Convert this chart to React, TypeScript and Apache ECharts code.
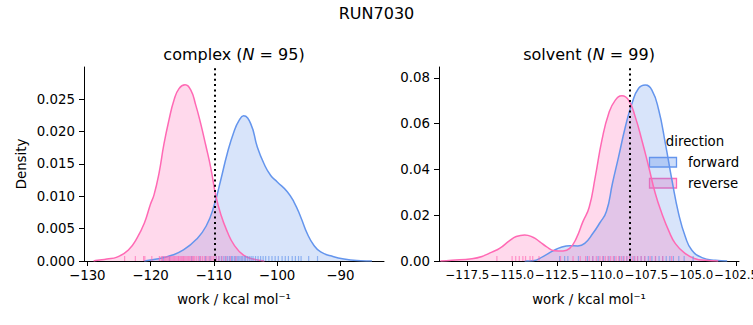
import React, { useEffect, useRef } from 'react';
import * as echarts from 'echarts';

// ---------- data ----------
const complexForwardX = [-121.0, -119.0, -116.9, -114.8, -112.7, -111.2, -110.0, -108.9, -107.87, -106.8, -106.0, -105.3, -104.17, -103.12, -102.06, -101.0, -99.96, -98.38, -97.32, -96.26, -95.21, -94.16, -93.1, -91.52, -89.42, -86.78, -85.0];
const complexForwardY = [0, 0.0003, 0.0008, 0.0017, 0.0034, 0.0054, 0.0084, 0.0125, 0.0166, 0.02, 0.0217, 0.0224, 0.0212, 0.0176, 0.015, 0.0132, 0.0122, 0.0107, 0.0091, 0.0068, 0.0042, 0.0024, 0.0014, 0.0008, 0.0003, 0.00005, 0];

const complexReverseX = [-129.0, -128.4, -126.9, -125.3, -123.5, -122.1, -121.0, -120.0, -119.45, -118.67, -117.87, -117.1, -116.3, -115.5, -114.55, -113.65, -112.86, -112.07, -111.28, -110.5, -109.7, -108.9, -107.9, -106.8, -105.3, -103.8, -102.0];
const complexReverseY = [0, 0.0001, 0.0003, 0.0006, 0.0017, 0.0036, 0.0058, 0.0088, 0.0102, 0.0135, 0.0181, 0.0217, 0.0248, 0.0266, 0.0272, 0.0264, 0.0241, 0.0212, 0.0179, 0.0145, 0.0102, 0.0072, 0.0046, 0.0025, 0.0009, 0.0003, 0];

const solventForwardX = [-114.3, -113.84, -113.28, -112.72, -112.26, -111.79, -111.33, -110.95, -110.49, -110.12, -109.74, -109.4, -109.06, -108.68, -108.31, -107.94, -107.57, -107.2, -106.82, -106.45, -106.08, -105.71, -105.33, -104.97, -104.41, -103.66, -103.0];
const solventForwardY = [0, 0.0001, 0.0019, 0.0044, 0.006, 0.0067, 0.0066, 0.0077, 0.0121, 0.0165, 0.0216, 0.034, 0.0455, 0.0587, 0.0689, 0.0755, 0.0769, 0.0747, 0.066, 0.0514, 0.0353, 0.0207, 0.0105, 0.0047, 0.0015, 0.0003, 0];

const solventReverseX = [-119.0, -118.36, -117.24, -116.68, -116.13, -115.7, -115.14, -114.77, -114.3, -113.84, -113.47, -113.09, -112.63, -112.16, -111.79, -111.42, -111.05, -110.7, -110.36, -109.99, -109.61, -109.24, -108.87, -108.5, -108.13, -107.76, -107.38, -107.01, -106.64, -106.27, -105.89, -105.33, -104.78, -104.22, -103.5];
const solventReverseY = [0, 0.0003, 0.001, 0.002, 0.0039, 0.0055, 0.0089, 0.0107, 0.0114, 0.0104, 0.0085, 0.0063, 0.0045, 0.0044, 0.0055, 0.0099, 0.0172, 0.0235, 0.0368, 0.0528, 0.0645, 0.0703, 0.0722, 0.0703, 0.063, 0.0528, 0.0412, 0.0295, 0.0207, 0.0134, 0.0076, 0.0032, 0.001, 0.0003, 0];

const complexForwardRug = [-118.0, -117.0, -113.5, -112.2, -111.3, -110.6, -109.6, -109.2, -108.8, -108.4, -108.1, -107.8, -107.5, -107.2, -107.0, -106.7, -106.5, -106.2, -106.0, -105.7, -105.5, -105.2, -105.0, -104.7, -104.4, -104.1, -103.8, -103.4, -103.0, -102.6, -102.2, -101.8, -101.3, -100.8, -100.3, -99.8, -99.2, -98.7, -98.2, -97.6, -97.1, -96.6, -96.2, -95.0, -93.6];
const complexReverseRug = [-124.1, -122.4, -121.1, -120.9, -119.8, -118.6, -118.3, -118.1, -117.8, -117.6, -117.4, -117.2, -117.0, -116.8, -116.6, -116.4, -116.2, -116.0, -115.8, -115.6, -115.5, -115.3, -115.1, -114.9, -114.8, -114.6, -114.4, -114.2, -114.0, -113.8, -113.6, -113.4, -113.2, -113.0, -112.7, -112.4, -112.1, -111.8, -111.5, -111.2, -110.9, -110.6, -110.3, -110.0, -109.6, -109.2, -108.7, -108.1, -107.4, -106.5];
const solventForwardRug = [-112.35, -112.07, -111.89, -111.3, -110.8, -110.5, -110.2, -109.9, -109.6, -109.3, -109.0, -108.8, -108.6, -108.4, -108.2, -108.0, -107.8, -107.6, -107.4, -107.2, -107.0, -106.8, -106.6, -106.4, -106.2, -106.0, -105.7, -105.4, -104.9];
const solventReverseRug = [-115.85, -115.0, -114.8, -114.6, -114.4, -114.25, -114.0, -113.85, -113.5, -112.3, -111.6, -111.2, -110.9, -110.7, -110.5, -110.3, -110.1, -109.95, -109.8, -109.65, -109.5, -109.35, -109.2, -109.05, -108.9, -108.75, -108.6, -108.45, -108.3, -108.15, -108.0, -107.8, -107.6, -107.3, -107.0, -106.6, -106.1];

const complexMarker = -109.86;
const solventMarker = -108.44;

const complexXTicks = [-130, -120, -110, -100, -90];
const complexYTicks = [0, 0.005, 0.01, 0.015, 0.02, 0.025];
const solventXTicks = [-117.5, -115, -112.5, -110, -107.5, -105, -102.5];
const solventYTicks = [0, 0.02, 0.04, 0.06, 0.08];

const mainTitle = 'RUN7030';
const panelNames = ['complex', 'solvent'];
const panelCounts = [95, 99];
const directionNames = ['forward', 'reverse'];

// ---------- styles ----------
const FORWARD = '#6495ED';
const REVERSE = '#FF69B4';
const FONT = 'DejaVu Sans';
const TICK_FS = 13.33;

const zip = (xs: number[], ys: number[]) => xs.map((x, i) => [x, ys[i]]);
const minus = (s: string) => s.replace('-', '\u2212');

function xAxisCfg(grid: number, min: number, max: number, ticks: number[], fmt: (v: number) => string, fs: number) {
  return {
    gridIndex: grid,
    type: 'value',
    min,
    max,
    axisLine: { show: true, onZero: false, lineStyle: { color: '#000', width: 1 } },
    axisTick: { show: true, length: 5, customValues: ticks, lineStyle: { color: '#000', width: 1 } },
    axisLabel: {
      customValues: ticks,
      formatter: fmt,
      color: '#000',
      fontSize: fs,
      fontFamily: FONT,
      margin: 8,
      hideOverlap: false,
      showMinLabel: true,
      showMaxLabel: true,
    },
    splitLine: { show: false },
  };
}

function yAxisCfg(grid: number, max: number, ticks: number[], fmt: (v: number) => string) {
  return {
    gridIndex: grid,
    type: 'value',
    min: 0,
    max,
    axisLine: { show: true, lineStyle: { color: '#000', width: 1 } },
    axisTick: { show: true, length: 5, customValues: ticks, lineStyle: { color: '#000', width: 1 } },
    axisLabel: { customValues: ticks, formatter: fmt, color: '#000', fontSize: TICK_FS, fontFamily: FONT, margin: 9, hideOverlap: false },
    splitLine: { show: false },
  };
}

function kde(idx: number, name: string, xs: number[], ys: number[], color: string) {
  return {
    type: 'line',
    name,
    xAxisIndex: idx,
    yAxisIndex: idx,
    data: zip(xs, ys),
    smooth: 0.5,
    symbol: 'none',
    silent: true,
    lineStyle: { color, width: 1.5 },
    areaStyle: { color, opacity: 0.25 },
  };
}

function rug(idx: number, name: string, values: number[], color: string, marker?: number) {
  const s: any = {
    type: 'scatter',
    name,
    xAxisIndex: idx,
    yAxisIndex: idx,
    data: values.map((v) => [v, 0]),
    symbol: 'rect',
    symbolSize: [1.2, 5],
    symbolOffset: [0, -2.5],
    silent: true,
    clip: false,
    itemStyle: { color, opacity: 0.65 },
    z: 3,
  };
  if (marker !== undefined) {
    s.markLine = {
      silent: true,
      symbol: ['none', 'none'],
      label: { show: false },
      lineStyle: { color: '#000', type: [2, 3.3], width: 2 },
      data: [{ xAxis: marker }],
      z: 5,
    };
  }
  return s;
}

function panelTitle(i: number, cx: number) {
  return {
    type: 'text',
    x: cx,
    y: 54,
    style: {
      text: `{a|${panelNames[i]} (}{i|N}{a| = ${panelCounts[i]})}`,
      align: 'center',
      verticalAlign: 'middle',
      rich: {
        a: { fontSize: 16, fontFamily: FONT, fill: '#000' },
        i: { fontSize: 16, fontFamily: FONT, fontStyle: 'italic', fill: '#000' },
      },
    },
  };
}

function plainText(text: string, x: number, y: number, fs: number, align = 'center', rotation = 0) {
  return {
    type: 'text',
    x,
    y,
    rotation,
    style: { text, fontSize: fs, fontFamily: FONT, fill: '#000', align, verticalAlign: 'middle' },
  };
}

export default function App() {
  const ref = useRef<HTMLDivElement>(null);

  useEffect(() => {
    if (!ref.current) return;
    const chart = echarts.init(ref.current, undefined, { renderer: 'svg' });
    const option: any = {
      animation: false,
      backgroundColor: '#fff',
      grid: [
        { left: 84, top: 67, width: 300, height: 194, containLabel: false, outerBoundsMode: 'none' },
        { left: 439, top: 67, width: 300, height: 194, containLabel: false, outerBoundsMode: 'none' },
      ],
      xAxis: [
        xAxisCfg(0, -130.52, -83.09, complexXTicks, (v: number) => minus(String(v)), TICK_FS),
        xAxisCfg(1, -119.08, -102.34, solventXTicks, (v: number) => minus(v.toFixed(1)), 11.8),
      ],
      yAxis: [
        yAxisCfg(0, 0.02994, complexYTicks, (v: number) => v.toFixed(3)),
        yAxisCfg(1, 0.0848, solventYTicks, (v: number) => v.toFixed(2)),
      ],
      series: [
        kde(0, directionNames[0], complexForwardX, complexForwardY, FORWARD),
        kde(0, directionNames[1], complexReverseX, complexReverseY, REVERSE),
        rug(0, directionNames[0] + ' rug', complexForwardRug, FORWARD),
        rug(0, directionNames[1] + ' rug', complexReverseRug, REVERSE, complexMarker),
        kde(1, directionNames[0], solventForwardX, solventForwardY, FORWARD),
        kde(1, directionNames[1], solventReverseX, solventReverseY, REVERSE),
        rug(1, directionNames[0] + ' rug', solventForwardRug, FORWARD),
        rug(1, directionNames[1] + ' rug', solventReverseRug, REVERSE, solventMarker),
      ],
      graphic: [
        plainText(mainTitle, 376.5, 13, 16),
        panelTitle(0, 234),
        panelTitle(1, 589),
        plainText('work / kcal mol\u207B\u00B9', 234, 299, 13.33),
        plainText('work / kcal mol\u207B\u00B9', 589, 299, 13.33),
        plainText('Density', 21, 164, 13.33, 'center', Math.PI / 2),
        plainText('direction', 695, 141, 13.33),
        {
          type: 'rect',
          shape: { x: 649.5, y: 157.5, width: 27, height: 9.5 },
          style: { fill: 'rgba(100,149,237,0.32)', stroke: FORWARD, lineWidth: 1.3 },
        },
        {
          type: 'rect',
          shape: { x: 649.5, y: 178.5, width: 27, height: 9.5 },
          style: { fill: 'rgba(255,105,180,0.32)', stroke: REVERSE, lineWidth: 1.3 },
        },
        plainText(directionNames[0], 688, 162.3, 13.33, 'left'),
        plainText(directionNames[1], 688, 183, 13.33, 'left'),
      ],
    };
    chart.setOption(option);
    return () => chart.dispose();
  }, []);

  return (
    <div
      ref={ref}
      style={{ position: 'absolute', left: 0, top: 0, width: 753, height: 325 }}
    />
  );
}
